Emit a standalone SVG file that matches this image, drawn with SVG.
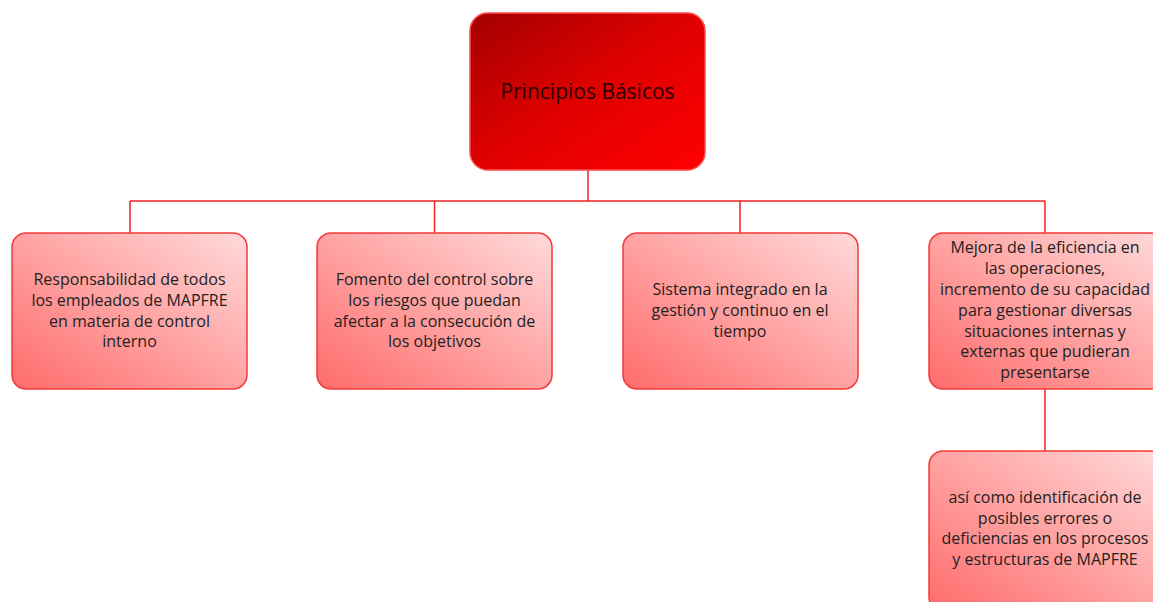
<svg xmlns="http://www.w3.org/2000/svg" width="1153" height="602" viewBox="0 0 1153 602">
<defs>
<linearGradient id="gTop" x1="0" y1="0" x2="1" y2="1">
<stop offset="0" stop-color="#a30000"/>
<stop offset="0.5" stop-color="#e00000"/>
<stop offset="1" stop-color="#ff0000"/>
</linearGradient>
<linearGradient id="gBox" x1="0" y1="1" x2="1" y2="0">
<stop offset="0" stop-color="#ff6b6b"/>
<stop offset="1" stop-color="#ffdada"/>
</linearGradient>
<style>
.top{fill:url(#gTop);stroke:#ff4a4a;stroke-width:1.5}
.box{fill:url(#gBox);stroke:#f43a3a;stroke-width:1.5}
.t{font-family:"Open Sans","Noto Sans","Liberation Sans",sans-serif;font-size:16px;fill:#222;text-anchor:middle}
.tt{font-family:"Open Sans","Noto Sans","Liberation Sans",sans-serif;font-size:21px;fill:#2a0000;text-anchor:middle}
.c{fill:none;stroke:#f02020;stroke-width:1.5}
</style>
</defs>
<g id="connectors">
<path class="c" d="M588 170V201M130 201H1045M130 201V233M434.5 201V233M740 201V233M1045 201V233M1045 389V451"/>
</g>
<g id="n0">
<rect class="top" x="470" y="13" width="235" height="157" rx="18"/>
<text class="tt" x="587.5" y="99">Principios Básicos</text>
</g>
<g id="n1">
<rect class="box" x="12" y="233" width="235" height="156" rx="14"/>
<text class="t" x="129.5" y="285">Responsabilidad de todos</text>
<text class="t" x="129.5" y="306">los empleados de MAPFRE</text>
<text class="t" x="129.5" y="327">en materia de control</text>
<text class="t" x="129.5" y="347">interno</text>
</g>
<g id="n2">
<rect class="box" x="317" y="233" width="235" height="156" rx="14"/>
<text class="t" x="434.5" y="285">Fomento del control sobre</text>
<text class="t" x="434.5" y="306">los riesgos que puedan</text>
<text class="t" x="434.5" y="327">afectar a la consecución de</text>
<text class="t" x="434.5" y="347">los objetivos</text>
</g>
<g id="n3">
<rect class="box" x="623" y="233" width="235" height="156" rx="14"/>
<text class="t" x="740" y="295">Sistema integrado en la</text>
<text class="t" x="740" y="316">gestión y continuo en el</text>
<text class="t" x="740" y="337">tiempo</text>
</g>
<g id="n4">
<rect class="box" x="929" y="233" width="235" height="156" rx="14"/>
<text class="t" x="1045" y="253">Mejora de la eficiencia en</text>
<text class="t" x="1045" y="274">las operaciones,</text>
<text class="t" x="1045" y="295">incremento de su capacidad</text>
<text class="t" x="1045" y="316">para gestionar diversas</text>
<text class="t" x="1045" y="337">situaciones internas y</text>
<text class="t" x="1045" y="357">externas que pudieran</text>
<text class="t" x="1045" y="378">presentarse</text>
</g>
<g id="n5">
<rect class="box" x="929" y="451" width="235" height="160" rx="14"/>
<text class="t" x="1045" y="503">así como identificación de</text>
<text class="t" x="1045" y="524">posibles errores o</text>
<text class="t" x="1045" y="544">deficiencias en los procesos</text>
<text class="t" x="1045" y="565">y estructuras de MAPFRE</text>
</g>
</svg>
